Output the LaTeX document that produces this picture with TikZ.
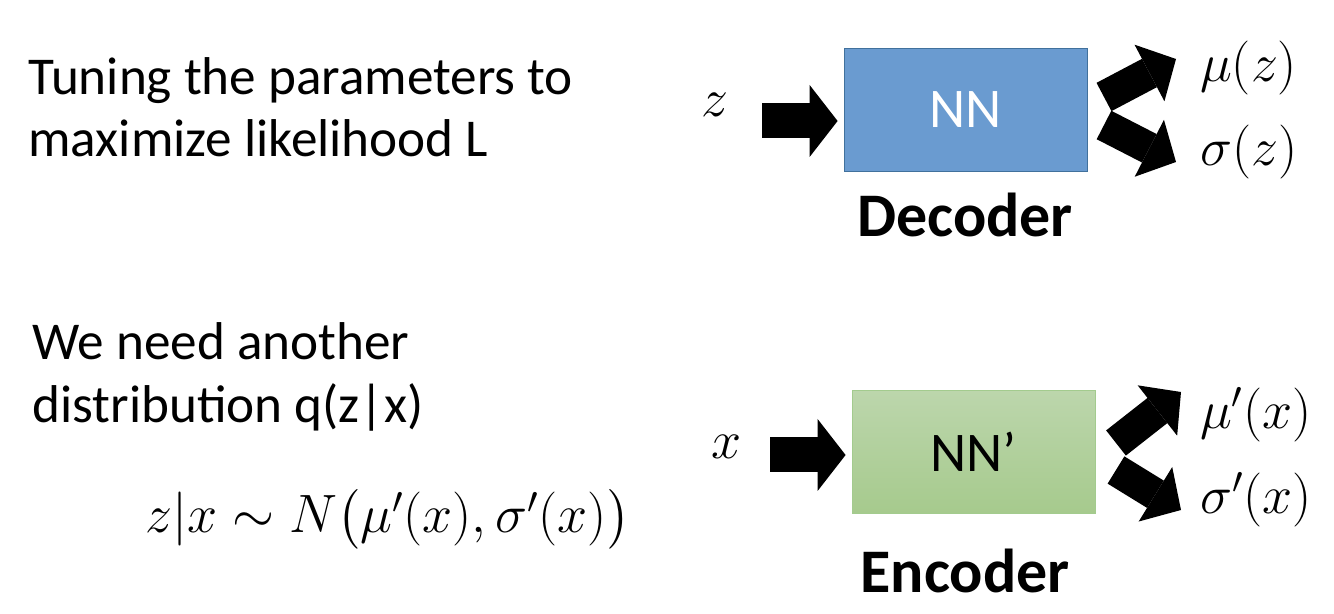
\RequirePackage{fix-cm}
\documentclass[tikz,border=0pt]{standalone}
\usepackage{amsmath}
\usepackage[no-math]{fontspec}
\setmainfont{Carlito}
\usetikzlibrary{arrows.meta,positioning}

\definecolor{decblue}{HTML}{6A9BD0}
\definecolor{decedge}{HTML}{41719C}
\definecolor{enctop}{HTML}{BCD6AC}
\definecolor{encbot}{HTML}{A6CA8D}
\definecolor{encedge}{HTML}{A3CB8E}

\tikzset{
  fatarrow/.style={line width=16pt, -{Triangle[length=15pt,width=32pt,line width=0pt]}},
  inarrow/.style={line width=17.5pt, -{Triangle[length=14pt,width=36pt,line width=0pt]}},
  netbox/.style={minimum width=121.5pt, minimum height=61.5pt, font=\fontsize{28}{30}\selectfont},
  caption/.style={anchor=base, font=\fontsize{31}{34}\selectfont\bfseries},
  lefttext/.style={anchor=base west, inner sep=0pt, font=\fontsize{26.6}{30}\selectfont},
  varlabel/.style={font=\fontsize{27}{30}\selectfont},
}

\begin{document}
\begin{tikzpicture}[x=0.5pt,y=-0.5pt]
  \useasboundingbox (0,0) rectangle (1334,614);
  % left side
  \node[lefttext] (tune1) at (28,95) {Tuning the parameters to};
  \node[lefttext] (tune2) at (28,157) {maximize likelihood L};
  \node[lefttext] (need1) at (32,360) {We need another};
  \node[lefttext] (need2) at (32,423) {distribution q(z|x)};
  \node[lefttext, font=\fontsize{27}{32}\selectfont] (dist) at (145,533) {$z|x\sim N\bigl(\mu'(x),\sigma'(x)\bigr)$};

  % decoder
  \node[netbox, fill=decblue, draw=decedge, text=white] (dec) at (965.5,109.5) {NN};
  \node[caption] (declab) at (965,237) {Decoder};
  \node[varlabel] (zin) at (715,105) {$z$};
  \node[varlabel, anchor=west] (muz) at (1193,68) {$\mu(z)$};
  \node[varlabel, anchor=west] (sigz) at (1193,152) {$\sigma(z)$};
  \coordinate (zfrom) at (762,121);
  \coordinate (dtop) at (1104,97);
  \coordinate (dbot) at (1104,125);
  \coordinate (dmu) at (1176,59);
  \coordinate (dsig) at (1176,162);
  \draw[inarrow] (zfrom) -- ([xshift=-3pt]zfrom -| dec.west);
  \draw[fatarrow] (dtop) -- (dmu);
  \draw[fatarrow] (dbot) -- (dsig);

  % encoder
  \node[netbox, top color=enctop, bottom color=encbot, draw=encedge] (enc) at (973.5,452) {NN’};
  \node[caption] (enclab) at (965,592) {Encoder};
  \node[varlabel] (xin) at (727,447) {$x$};
  \node[varlabel, anchor=west] (mux) at (1193,415) {$\mu'(x)$};
  \node[varlabel, anchor=west] (sigx) at (1193,500) {$\sigma'(x)$};
  \coordinate (xfrom) at (770,455);
  \coordinate (etop) at (1116,443);
  \coordinate (ebot) at (1116,470);
  \coordinate (emu) at (1181,392);
  \coordinate (esig) at (1181,510);
  \draw[inarrow] (xfrom) -- ([xshift=-3pt]xfrom -| enc.west);
  \draw[fatarrow] (etop) -- (emu);
  \draw[fatarrow] (ebot) -- (esig);
\end{tikzpicture}
\end{document}
